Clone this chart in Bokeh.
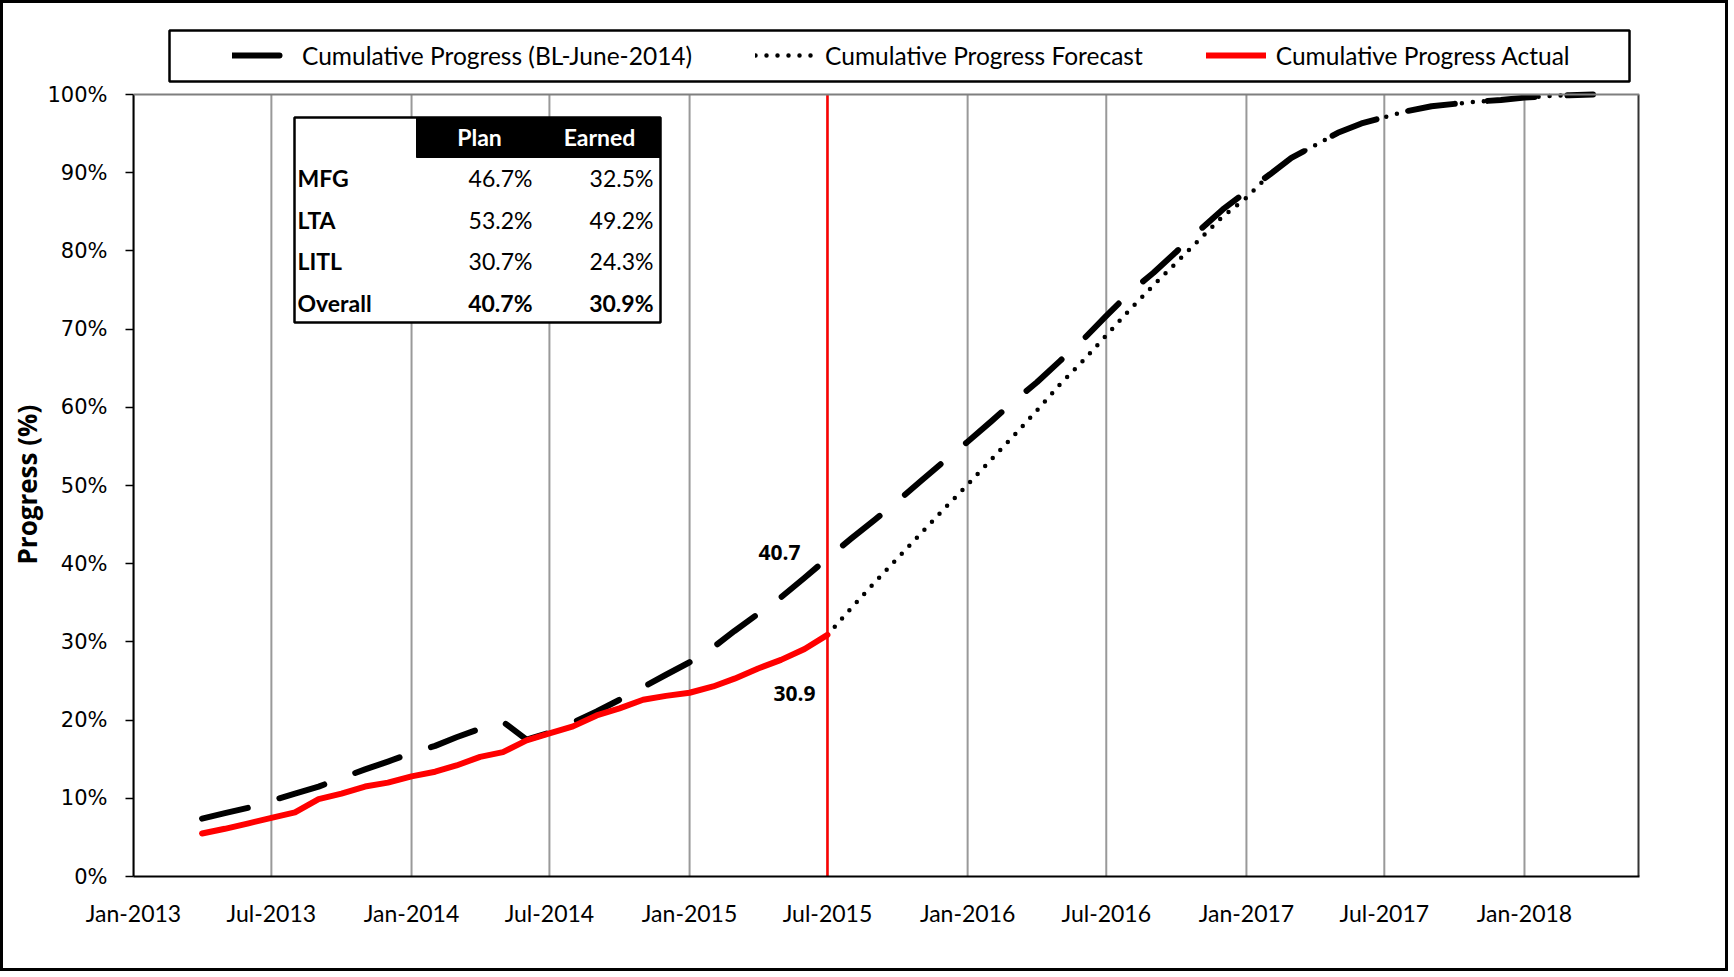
import pandas as pd
from bokeh.plotting import figure
from bokeh.models import (Range1d, FixedTicker, DatetimeTickFormatter, PrintfTickFormatter,
                          Legend, LegendItem, Label, BoxAnnotation, ColumnDataSource, Span, Title)
from bokeh.embed import file_html
from bokeh.resources import INLINE

# ---------------- data ----------------
baseline_start = "2013-04-01"
baseline_values = [
    7.4, 8.1, 8.8, 9.7, 10.6, 11.5, 12.6, 13.7, 14.7,                      # 2013 Apr-Dec
    15.8, 16.7, 17.8, 18.9, 19.8, 17.5, 18.4, 19.7, 21.1, 22.6, 24.2, 25.8,  # 2014
    27.4, 29.3, 31.4, 33.6, 35.7, 38.2, 40.7, 43.2, 45.6, 48.0, 50.6, 53.1,  # 2015
    55.6, 58.2, 60.7, 63.2, 65.9, 68.7, 71.7, 74.7, 77.2, 79.9, 82.7, 85.3,  # 2016
    87.6, 89.8, 91.9, 93.5, 95.1, 96.3, 97.1, 97.9, 98.5, 98.8, 99.1, 99.3,  # 2017
    99.6, 99.8, 99.9, 100.0,                                                 # 2018 Jan-Apr
]
actual_start = "2013-04-01"
actual_values = [
    5.5, 6.1, 6.8, 7.5, 8.2, 9.9, 10.6, 11.5, 12.0,                          # 2013 Apr-Dec
    12.8, 13.4, 14.2, 15.3, 15.9, 17.4, 18.3, 19.2, 20.6, 21.5, 22.6, 23.1,  # 2014
    23.5, 24.3, 25.3, 26.6, 27.7, 29.1, 30.9,                                # 2015 Jan-Jul
]
forecast_start = "2015-07-01"
forecast_values = [
    30.9, 34.3, 37.6, 40.7, 43.9, 47.0,                                      # 2015 Jul-Dec
    50.1, 53.3, 56.3, 59.6, 62.9, 66.0, 69.2, 72.5, 75.6, 78.5, 81.5, 84.4,  # 2016
    86.8, 89.8, 91.9, 93.5, 95.1, 96.3, 97.1, 97.9, 98.5, 98.8, 99.1, 99.3,  # 2017
    99.6, 99.8, 99.9, 100.0,                                                 # 2018 Jan-Apr
]
data_date = "2015-07-01"
data_date_y = [0, 100]
plan_at_data_date = "40.7"
earned_at_data_date = "30.9"

x_tick_labels = ["Jan-2013", "Jul-2013", "Jan-2014", "Jul-2014", "Jan-2015", "Jul-2015",
                 "Jan-2016", "Jul-2016", "Jan-2017", "Jul-2017", "Jan-2018"]
y_ticks = [0, 10, 20, 30, 40, 50, 60, 70, 80, 90, 100]
y_min, y_max = 0, 100
x_start, x_end = "2013-01-01", "2018-06-01"
y_axis_title = "Progress (%)"

legend_labels = ["Cumulative Progress (BL-June-2014)", "Cumulative Progress Forecast",
                 "Cumulative Progress Actual"]

table_header = ["Plan", "Earned"]
table_rows = ["MFG", "LTA", "LITL", "Overall"]
table_plan = ["46.7%", "53.2%", "30.7%", "40.7%"]
table_earned = ["32.5%", "49.2%", "24.3%", "30.9%"]


def ms(d):
    return pd.Timestamp(d).value / 1e6


bl_src = ColumnDataSource(dict(
    x=pd.date_range(baseline_start, periods=len(baseline_values), freq="MS"), y=baseline_values))
ac_src = ColumnDataSource(dict(
    x=pd.date_range(actual_start, periods=len(actual_values), freq="MS"), y=actual_values))
fc_src = ColumnDataSource(dict(
    x=pd.date_range(forecast_start, periods=len(forecast_values), freq="MS"), y=forecast_values))
dd_src = ColumnDataSource(dict(x=[pd.Timestamp(data_date)] * 2, y=data_date_y))

tick_dates = [pd.to_datetime(t, format="%b-%Y") for t in x_tick_labels]
tick_ms = [ms(t) for t in tick_dates]

FONT = "Lato"

# page coords: frame left 133, right 1639, bottom 876; 100% at y=94; frame top extended to 28
BORDER = 3
W, H = 1734 - 2 * BORDER, 977 - 2 * BORDER
FR_L, FR_R, FR_B, FR_T, Y100 = 133 - BORDER, 1639 - BORDER, 876 - BORDER, 28 - BORDER, 94 - BORDER
y_top = y_max * (FR_B - FR_T) / (FR_B - Y100)

p = figure(width=W, height=H, x_axis_type="datetime",
           x_range=Range1d(ms(x_start), ms(x_end)), y_range=Range1d(y_min, y_top),
           output_backend="svg", toolbar_location=None,
           min_border_left=FR_L, min_border_right=W - FR_R,
           min_border_top=FR_T, min_border_bottom=H - FR_B)

p.background_fill_color = "white"
p.border_fill_color = "white"
p.outline_line_color = None
p.styles = {"border": f"{BORDER}px solid black"}

# axes
p.xaxis.ticker = FixedTicker(ticks=tick_ms)
p.xaxis.formatter = DatetimeTickFormatter(days="%b-%Y", months="%b-%Y", years="%b-%Y")
p.xaxis.major_tick_out = 0
p.xaxis.major_tick_in = 0
p.xaxis.minor_tick_out = 0
p.xaxis.minor_tick_in = 0
p.xaxis.axis_line_color = "black"
p.xaxis.axis_line_width = 2
p.xaxis.major_label_text_font = FONT
p.xaxis.major_label_text_font_size = "23px"
p.xaxis.major_label_text_color = "black"
p.xaxis.major_label_standoff = 22

p.yaxis.ticker = FixedTicker(ticks=y_ticks)
p.yaxis.bounds = (y_min, y_max)
p.yaxis.formatter = PrintfTickFormatter(format="%d%%")
p.yaxis.major_tick_out = 8
p.yaxis.major_tick_in = 0
p.yaxis.minor_tick_out = 0
p.yaxis.minor_tick_in = 0
p.yaxis.major_tick_line_color = "black"
p.yaxis.major_tick_line_width = 1.5
p.yaxis.axis_line_color = "black"
p.yaxis.axis_line_width = 2
p.yaxis.major_label_text_font = "DejaVu Sans"
p.yaxis.major_label_text_font_size = "21px"
p.yaxis.major_label_text_color = "black"
p.yaxis.major_label_standoff = 18

# y axis title, centred on the 0-100% span (not on the extended frame)
p.add_layout(Title(text=y_axis_title, align="left", offset=312, vertical_align="bottom",
                   standoff=0, text_font="Open Sans", text_font_style="bold",
                   text_font_size="26px", text_color="black"), "left")

p.xgrid.grid_line_color = None
p.ygrid.grid_line_color = None

# vertical gridlines (0..100) at the tick dates, and frame border top/right
p.segment(x0=tick_dates, y0=[y_min] * len(tick_dates), x1=tick_dates, y1=[y_max] * len(tick_dates),
          line_color="#999999", line_width=2)
p.add_layout(Span(location=y_max, dimension="width", line_color="#7f7f7f", line_width=2))
p.segment(x0=[pd.Timestamp(x_end)], y0=[y_min], x1=[pd.Timestamp(x_end)], y1=[y_max],
          line_color="#333333", line_width=4)

# series
r_bl = p.line("x", "y", source=bl_src, line_color="black", line_width=6,
              line_dash="47 33", line_cap="round", line_join="round")
r_fc = p.line("x", "y", source=fc_src, line_color="black", line_width=4.5,
              line_dash="0 11", line_cap="round")
r_ac = p.line("x", "y", source=ac_src, line_color="#ff0000", line_width=6,
              line_cap="round", line_join="round")
p.line("x", "y", source=dd_src, line_color="#ff0000", line_width=2.5)

# value labels at data date
p.add_layout(Label(x=ms(data_date), y=float(plan_at_data_date), text=plan_at_data_date,
                   x_offset=-27, y_offset=6, text_align="right", text_baseline="middle",
                   text_font="Open Sans", text_font_style="bold", text_font_size="21px",
                   text_color="black"))
p.add_layout(Label(x=ms(data_date), y=float(earned_at_data_date), text=earned_at_data_date,
                   x_offset=-12, y_offset=-59, text_align="right", text_baseline="middle",
                   text_font="Open Sans", text_font_style="bold", text_font_size="21px",
                   text_color="black"))

# legend box (screen units relative to frame: x from left, y up from bottom)
p.add_layout(BoxAnnotation(left=169 - 133, right=1629 - 133, top=876 - 30, bottom=876 - 81,
                           left_units="screen", right_units="screen",
                           top_units="screen", bottom_units="screen",
                           fill_color="white", fill_alpha=1,
                           line_color="black", line_alpha=1, line_width=2.5))
legend = Legend(items=[LegendItem(label=legend_labels[0], renderers=[r_bl]),
                       LegendItem(label=legend_labels[1], renderers=[r_fc]),
                       LegendItem(label=legend_labels[2], renderers=[r_ac])],
                orientation="horizontal", location=(232 - 133, 876 - 40 - 30),
                padding=0, margin=0, spacing=63, glyph_width=60, glyph_height=30,
                label_standoff=10, label_text_font=FONT, label_text_font_size="24.5px",
                label_text_color="black", border_line_alpha=0, background_fill_alpha=0)
p.add_layout(legend)

# table
p.add_layout(BoxAnnotation(left=161, right=527, top=759, bottom=554,
                           left_units="screen", right_units="screen",
                           top_units="screen", bottom_units="screen",
                           fill_color="white", fill_alpha=1,
                           line_color="black", line_alpha=1, line_width=2.5))
p.add_layout(BoxAnnotation(left=283, right=527, top=759, bottom=719,
                           left_units="screen", right_units="screen",
                           top_units="screen", bottom_units="screen",
                           fill_color="black", fill_alpha=1,
                           line_color="black", line_alpha=1, line_width=1))
for txt, cx in zip(table_header, [346, 466]):
    p.add_layout(Label(x=cx, y=740, x_units="screen", y_units="screen", text=txt,
                       text_align="center", text_baseline="middle", text_font=FONT,
                       text_font_style="bold", text_font_size="23px", text_color="white"))
row_y = [699, 657, 616, 574]
for i, (name, pl, ea) in enumerate(zip(table_rows, table_plan, table_earned)):
    style = "bold" if name == "Overall" else "normal"
    p.add_layout(Label(x=164, y=row_y[i], x_units="screen", y_units="screen", text=name,
                       text_align="left", text_baseline="middle", text_font=FONT,
                       text_font_style="bold", text_font_size="23px", text_color="black"))
    p.add_layout(Label(x=399, y=row_y[i], x_units="screen", y_units="screen", text=pl,
                       text_align="right", text_baseline="middle", text_font=FONT,
                       text_font_style=style, text_font_size="23px", text_color="black"))
    p.add_layout(Label(x=520, y=row_y[i], x_units="screen", y_units="screen", text=ea,
                       text_align="right", text_baseline="middle", text_font=FONT,
                       text_font_style=style, text_font_size="23px", text_color="black"))

open("out.html", "w").write(file_html(p, INLINE))
